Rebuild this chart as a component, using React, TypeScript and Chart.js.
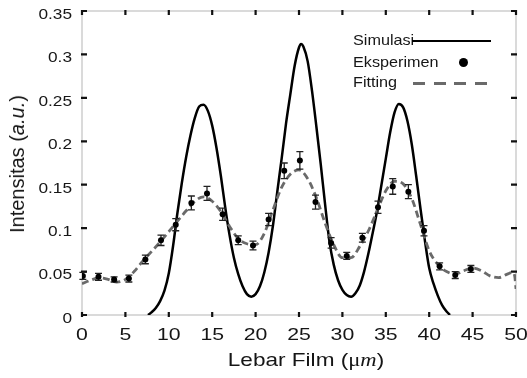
import React, { useEffect, useRef } from "react";
import { Chart, registerables } from "chart.js";
Chart.register(...registerables);

// Simulasi (solid curve)
const simX = [7.6, 8, 8.5, 9, 9.5, 10, 10.5, 11, 11.5, 12, 12.5, 13, 13.5, 14, 14.5, 15, 15.5, 16, 16.5, 17, 17.5, 18, 18.5, 19, 19.5, 20, 20.5, 21, 21.5, 22, 22.5, 23, 23.5, 24, 24.5, 25, 25.25, 25.5, 26, 26.5, 27, 27.5, 28, 28.5, 29, 29.5, 30, 30.5, 31, 31.5, 32, 32.5, 33, 33.5, 34, 34.5, 35, 35.5, 36, 36.5, 37, 37.5, 38, 38.5, 39, 39.5, 40, 40.5, 41, 41.5, 42, 42.4];
const simY = [0, 0.003, 0.008, 0.016, 0.028, 0.048, 0.080, 0.118, 0.152, 0.182, 0.207, 0.227, 0.240, 0.242, 0.235, 0.218, 0.192, 0.160, 0.124, 0.092, 0.066, 0.047, 0.033, 0.024, 0.021, 0.024, 0.033, 0.049, 0.072, 0.103, 0.142, 0.180, 0.220, 0.254, 0.287, 0.308, 0.312, 0.309, 0.292, 0.258, 0.217, 0.174, 0.128, 0.085, 0.058, 0.040, 0.029, 0.023, 0.021, 0.025, 0.034, 0.050, 0.071, 0.095, 0.120, 0.150, 0.180, 0.210, 0.233, 0.243, 0.239, 0.223, 0.196, 0.160, 0.122, 0.086, 0.054, 0.036, 0.022, 0.011, 0.004, 0];

// Fitting (dashed curve)
const fitX = [0, 1, 2, 3, 4, 5, 6, 7, 8, 9, 10, 11, 12, 13, 14, 15, 16, 17, 18, 19, 20, 21, 22, 23, 24, 25, 26, 27, 28, 29, 30, 31, 32, 33, 34, 35, 36, 37, 38, 39, 40, 41, 42, 43, 44, 45, 46, 47, 48, 49, 49.6, 49.85, 50];
const fitY = [0.036, 0.040, 0.043, 0.041, 0.038, 0.041, 0.050, 0.062, 0.073, 0.084, 0.096, 0.108, 0.120, 0.131, 0.136, 0.131, 0.119, 0.102, 0.088, 0.082, 0.081, 0.094, 0.121, 0.147, 0.162, 0.167, 0.157, 0.135, 0.106, 0.081, 0.066, 0.066, 0.079, 0.097, 0.120, 0.143, 0.154, 0.151, 0.134, 0.104, 0.074, 0.058, 0.050, 0.047, 0.051, 0.054, 0.051, 0.045, 0.043, 0.047, 0.049, 0.045, 0.030];

// Eksperimen (points with error bars)
const expX = [0.1, 1.9, 3.7, 5.4, 7.3, 9.1, 10.8, 12.6, 14.4, 16.2, 18.0, 19.7, 21.5, 23.3, 25.1, 26.9, 28.7, 30.5, 32.3, 34.1, 35.8, 37.6, 39.4, 41.2, 43.0, 44.8];
const expY = [0.045, 0.044, 0.041, 0.042, 0.064, 0.086, 0.104, 0.129, 0.140, 0.116, 0.086, 0.080, 0.110, 0.166, 0.178, 0.130, 0.083, 0.068, 0.089, 0.124, 0.148, 0.142, 0.097, 0.056, 0.046, 0.053];
const expErr = [0.004, 0.004, 0.003, 0.004, 0.005, 0.006, 0.007, 0.008, 0.008, 0.007, 0.005, 0.005, 0.007, 0.009, 0.010, 0.008, 0.006, 0.004, 0.005, 0.007, 0.009, 0.008, 0.006, 0.004, 0.004, 0.004];

const xTickValues = [0, 5, 10, 15, 20, 25, 30, 35, 40, 45, 50];
const xTickLabels = ["0", "5", "10", "15", "20", "25", "30", "35", "40", "45", "50"];
const yTickValues = [0, 0.05, 0.1, 0.15, 0.2, 0.25, 0.3, 0.35];
const yTickLabels = ["0", "0.05", "0.1", "0.15", "0.2", "0.25", "0.3", "0.35"];

const legendLabels = ["Simulasi", "Eksperimen", "Fitting"];

const FIT_COLOR = "#6a6a6a";
const TEXT_COLOR = "#161616";
const SANS = '"Liberation Sans", Arial, sans-serif';

const framePlugin = {
  id: "frameAndBars",
  beforeDatasetsDraw(chart: any) {
    const { ctx, chartArea: a, scales } = chart;
    ctx.save();
    ctx.strokeStyle = "#c2c2c2";
    ctx.lineWidth = 1.2;
    ctx.strokeRect(a.left, a.top, a.right - a.left, a.bottom - a.top);
    ctx.strokeStyle = "#111";
    ctx.lineWidth = 2.2;
    xTickValues.forEach((v) => {
      const px = scales.x.getPixelForValue(v);
      ctx.beginPath();
      ctx.moveTo(px, a.bottom + 2);
      ctx.lineTo(px, a.bottom - 3);
      ctx.moveTo(px, a.top - 1);
      ctx.lineTo(px, a.top + 4);
      ctx.stroke();
    });
    yTickValues.forEach((v) => {
      const py = scales.y.getPixelForValue(v);
      ctx.beginPath();
      ctx.moveTo(a.left - 1, py);
      ctx.lineTo(a.left + 5, py);
      ctx.moveTo(a.right + 1, py);
      ctx.lineTo(a.right - 5, py);
      ctx.stroke();
    });
    ctx.restore();
  },
  afterDatasetDraw(chart: any, args: any) {
    if (args.index !== 1) return;
    const { ctx, scales } = chart;
    ctx.save();
    ctx.strokeStyle = "#222";
    ctx.lineWidth = 1.3;
    expX.forEach((xv, i) => {
      const px = scales.x.getPixelForValue(xv);
      const pTop = scales.y.getPixelForValue(expY[i] + expErr[i]);
      const pBot = scales.y.getPixelForValue(expY[i] - expErr[i]);
      ctx.beginPath();
      ctx.moveTo(px, pTop);
      ctx.lineTo(px, pBot);
      ctx.moveTo(px - 3.5, pTop);
      ctx.lineTo(px + 3.5, pTop);
      ctx.moveTo(px - 3.5, pBot);
      ctx.lineTo(px + 3.5, pBot);
      ctx.stroke();
    });
    ctx.restore();
  },
  afterDraw(chart: any) {
    const { ctx, scales } = chart;
    ctx.save();
    ctx.fillStyle = TEXT_COLOR;
    ctx.font = `15px ${SANS}`;
    ctx.textAlign = "right";
    ctx.textBaseline = "alphabetic";
    yTickValues.forEach((v, i) => {
      const py = scales.y.getPixelForValue(v);
      ctx.save();
      ctx.translate(72, py + 7.8);
      ctx.scale(1.15, 1);
      ctx.fillText(yTickLabels[i], 0, 0);
      ctx.restore();
    });
    ctx.font = `17px ${SANS}`;
    ctx.textAlign = "center";
    xTickValues.forEach((v, i) => {
      const px = scales.x.getPixelForValue(v);
      ctx.save();
      ctx.translate(px, 339.5);
      ctx.scale(1.25, 1);
      ctx.fillText(xTickLabels[i], 0, 0);
      ctx.restore();
    });
    ctx.restore();
  },
};

export default function App() {
  const ref = useRef<HTMLCanvasElement>(null);
  useEffect(() => {
    const chart = new Chart(ref.current as HTMLCanvasElement, {
      type: "scatter",
      data: {
        datasets: [
          {
            label: legendLabels[1],
            data: expX.map((x, i) => ({ x, y: expY[i] })),
            showLine: false,
            pointRadius: 3,
            pointBackgroundColor: "#000",
            pointBorderColor: "#000",
            pointBorderWidth: 0,
          },
          {
            label: legendLabels[2],
            data: fitX.map((x, i) => ({ x, y: fitY[i] })),
            showLine: true,
            borderColor: FIT_COLOR,
            borderWidth: 2.8,
            borderDash: [7, 4],
            pointRadius: 0,
            cubicInterpolationMode: "monotone",
          },
          {
            label: legendLabels[0],
            data: simX.map((x, i) => ({ x, y: simY[i] })),
            showLine: true,
            borderColor: "#000",
            borderWidth: 2.5,
            pointRadius: 0,
            cubicInterpolationMode: "monotone",
          },
        ],
      },
      options: {
        responsive: false,
        animation: false,
        devicePixelRatio: 1,
        layout: { padding: { top: 11, right: 11, left: 0, bottom: 0 } },
        plugins: { legend: { display: false }, tooltip: { enabled: false } },
        scales: {
          x: {
            type: "linear",
            min: 0,
            max: 50,
            ticks: { display: false, stepSize: 5 },
            grid: { display: false, drawTicks: false },
            border: { display: false },
            afterFit: (s: any) => {
              s.height = 63;
            },
          },
          y: {
            type: "linear",
            min: 0,
            max: 0.35,
            ticks: { display: false, stepSize: 0.05 },
            grid: { display: false, drawTicks: false },
            border: { display: false },
            afterFit: (s: any) => {
              s.width = 82;
            },
          },
        },
      } as any,
      plugins: [framePlugin],
    });
    return () => chart.destroy();
  }, []);

  const legendText: React.CSSProperties = {
    position: "absolute",
    left: 353,
    fontFamily: SANS,
    fontSize: 15,
    lineHeight: "15px",
    color: TEXT_COLOR,
    whiteSpace: "nowrap",
    transform: "scaleX(1.08)",
    transformOrigin: "left center",
  };

  return (
    <div style={{ position: "absolute", left: 0, top: 0, width: 527, height: 378, background: "#fff", overflow: "hidden" }}>
      <canvas ref={ref} width={527} height={378} style={{ position: "absolute", left: 0, top: 0 }} />
      {/* Y axis title */}
      <div
        style={{
          position: "absolute",
          left: 17,
          top: 164,
          transform: "translate(-50%, -50%) rotate(-90deg)",
          fontFamily: SANS,
          fontSize: 20,
          lineHeight: "20px",
          color: TEXT_COLOR,
          whiteSpace: "nowrap",
        }}
      >
        Intensitas (<i>a.u.</i>)
      </div>
      {/* X axis title */}
      <div
        style={{
          position: "absolute",
          left: 306,
          top: 351,
          transform: "translateX(-50%) scaleX(1.22)",
          fontFamily: SANS,
          fontSize: 18.5,
          lineHeight: "18px",
          color: TEXT_COLOR,
          whiteSpace: "nowrap",
        }}
      >
        Lebar Film (<span style={{ fontFamily: '"Liberation Serif", serif' }}>μ</span>
        <i style={{ fontFamily: '"Liberation Serif", serif' }}>m</i>)
      </div>
      {/* Legend */}
      <div style={{ ...legendText, top: 32 }}>{legendLabels[0]}</div>
      <div style={{ ...legendText, top: 54 }}>{legendLabels[1]}</div>
      <div style={{ ...legendText, top: 74 }}>{legendLabels[2]}</div>
      <div style={{ position: "absolute", left: 412, top: 39.5, width: 79, height: 2.5, background: "#000" }} />
      <div style={{ position: "absolute", left: 459, top: 57.5, width: 9, height: 9, borderRadius: "50%", background: "#000" }} />
      <div
        style={{
          position: "absolute",
          left: 413,
          top: 82,
          width: 74,
          height: 3,
          background: `repeating-linear-gradient(to right, ${FIT_COLOR} 0px, ${FIT_COLOR} 12px, transparent 12px, transparent 20.7px)`,
        }}
      />
    </div>
  );
}
